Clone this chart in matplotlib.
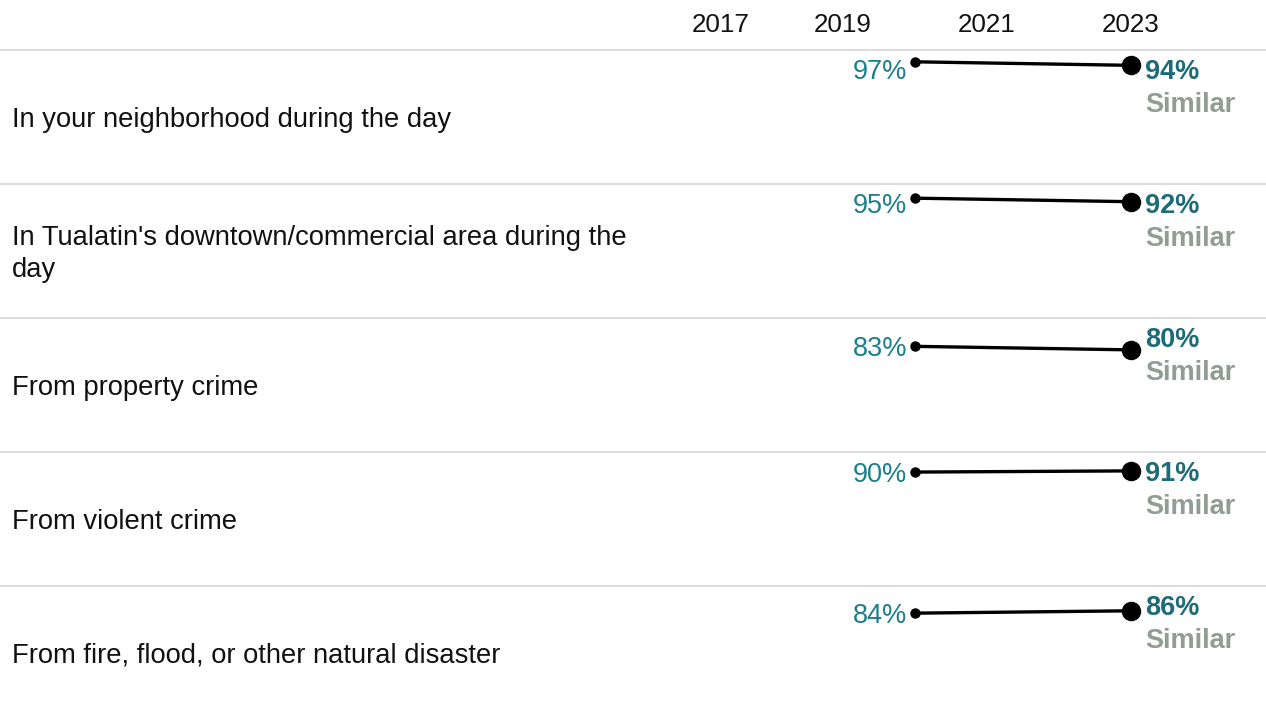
import matplotlib
matplotlib.use("Agg")
import matplotlib.pyplot as plt

# ---- data ----
categories = [
    "In your neighborhood during the day",
    "In Tualatin's downtown/commercial area during the\nday",
    "From property crime",
    "From violent crime",
    "From fire, flood, or other natural disaster",
]
start_values = [97, 95, 83, 90, 84]
end_values = [94, 92, 80, 91, 86]
comparison = ["Similar", "Similar", "Similar", "Similar", "Similar"]
years = [2020, 2023]
header_labels = ["2017", "2019", "2021", "2023"]
header_years = [2017.3, 2019, 2021, 2023]

plt.rcParams['font.family'] = ['Liberation Sans', 'DejaVu Sans']

W, H = 1266, 713
DPI = 100
fig = plt.figure(figsize=(W / DPI, H / DPI), dpi=DPI)

x_px_2023 = 1131.0
px_per_year = 72.0
xlim = (2023 - x_px_2023 / px_per_year, 2023 + (W - x_px_2023) / px_per_year)

top_px = 50.0
row_px = 134.0
ylim = (-6.5, 107.0)
yr = ylim[1] - ylim[0]

start_color = "#1b7f8c"
end_color = "#1d6a78"
sim_color = "#8f9d92"
grid_color = "#d6d6d6"

# header axis
hax = fig.add_axes([0, 1 - top_px / H, 1, top_px / H])
hax.set_xlim(*xlim)
hax.set_ylim(0, 1)
hax.axis("off")
for lab, xv in zip(header_labels, header_years):
    hax.text(xv, 1 - 32 / top_px, lab, ha="center", va="baseline",
             fontsize=18.7, color="#111111")

for i, cat in enumerate(categories):
    row_top = top_px + i * row_px
    bottom_frac = 1 - (row_top + row_px) / H
    ax = fig.add_axes([0, bottom_frac, 1, row_px / H])
    ax.set_xlim(*xlim)
    ax.set_ylim(*ylim)
    ax.axis("off")
    ax.axhline(ylim[1], color=grid_color, lw=1.2, clip_on=False)

    ax.text(0.0095, 1 - 70 / row_px, cat, transform=ax.transAxes,
            ha="left", va="center", fontsize=19.7, color="#111111",
            linespacing=1.33)

    vals = [start_values[i], end_values[i]]
    ax.plot(years, vals, color="black", lw=2.4, solid_capstyle="round", zorder=2)
    ax.plot(years[0], vals[0], "o", color="black", ms=6.5, zorder=3)
    ax.plot(years[1], vals[1], "o", color="black", ms=13, zorder=3)

    # start label: clamp near the row top
    clamp = ylim[1] - 19 / row_px * yr
    ys = min(vals[0], clamp)
    ax.annotate(f"{start_values[i]}%", (years[0], ys), xytext=(-5.8, -7.2),
                textcoords="offset points", ha="right", va="baseline",
                fontsize=19.5, color=start_color)

    ax.annotate(f"{end_values[i]}%", (years[1], 1 - 29 / row_px),
                xycoords=("data", "axes fraction"),
                xytext=(10, 0), textcoords="offset points",
                ha="left", va="baseline", fontsize=19.5, fontweight="bold",
                color=end_color)
    ax.annotate(comparison[i], (years[1], 1 - 62 / row_px),
                xycoords=("data", "axes fraction"),
                xytext=(10, 0), textcoords="offset points",
                ha="left", va="baseline", fontsize=19.5, fontweight="bold",
                color=sim_color)

fig.savefig("out.png", dpi=DPI)
